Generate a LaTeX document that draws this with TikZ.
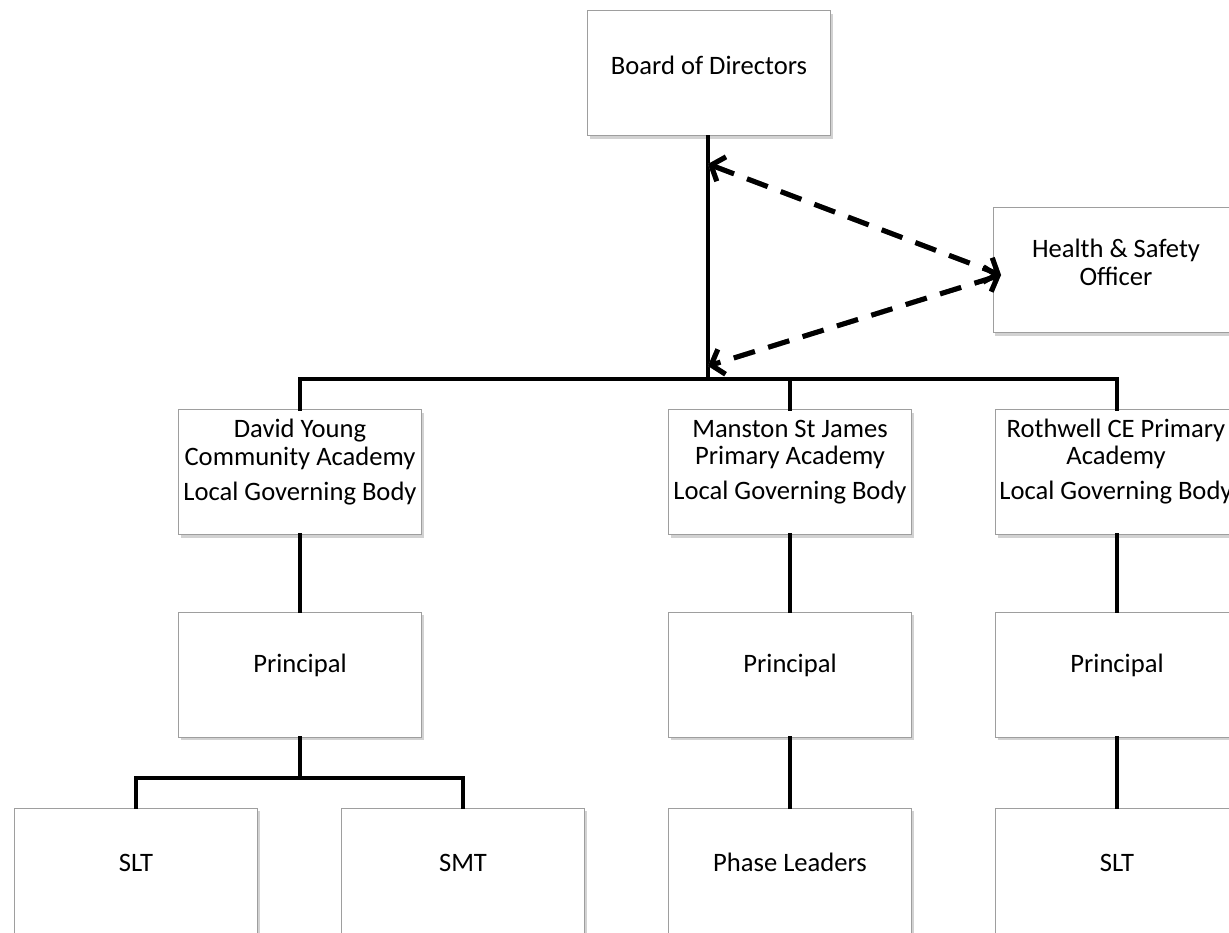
\documentclass[tikz,border=0pt]{standalone}
\usepackage{fontspec}
\setmainfont{Carlito}
\usetikzlibrary{arrows.meta,shadows}
\begin{document}
\begin{tikzpicture}[x=1pt,y=-1pt,
  box/.style={draw=black!38, line width=1pt, fill=white, minimum width=243pt, minimum height=125pt, inner sep=0pt,
    drop shadow={shadow xshift=2pt, shadow yshift=-3pt, opacity=0.35, fill=black!50}},
  txt/.style={anchor=base, inner sep=0pt, font=\fontsize{26.6}{30}\selectfont},
  conn/.style={line width=3.6pt, line cap=rect},
  dline/.style={line width=5pt, dash pattern=on 22pt off 14pt, {Straight Barb[length=11pt,width=26pt,line width=5pt]}-{Straight Barb[length=11pt,width=26pt,line width=5pt]}},
  dshadow/.style={dline, draw=black!45}]
\useasboundingbox (0,0) rectangle (1229,933);
\clip (0,0) rectangle (1229,933);
\fill[white] (0,0) rectangle (1229,933);

% boxes
\node[box] (b) at (709,73.5) {};
\node[box] (hs) at (1114.5,270.5) {};
\node[box] (dy) at (300,472) {};
\node[box] (ms) at (790,472) {};
\node[box] (rw) at (1117,472) {};
\node[box] (p1) at (300,674.5) {};
\node[box] (p2) at (790,674.5) {};
\node[box] (p3) at (1117,674.5) {};
\node[box] (s1) at (136,870.5) {};
\node[box] (s2) at (463,870.5) {};
\node[box] (s3) at (790,870.5) {};
\node[box] (s4) at (1117,870.5) {};

% texts
\node[txt] (tb) at (709,75) {Board of Directors};
\node[txt] (ths1) at (1116,258) {Health \& Safety};
\node[txt] (ths2) at (1116,286) {Officer};
\node[txt] (tdy1) at (300,437) {David Young};
\node[txt] (tdy2) at (300,465) {Community Academy};
\node[txt] (tdy3) at (300,500) {Local Governing Body};
\node[txt] (tms1) at (790,437) {Manston St James};
\node[txt] (tms2) at (790,464) {Primary Academy};
\node[txt] (tms3) at (790,499) {Local Governing Body};
\node[txt] (trw1) at (1116,437) {Rothwell CE Primary};
\node[txt] (trw2) at (1116,464) {Academy};
\node[txt] (trw3) at (1116,499) {Local Governing Body};
\node[txt] (tp1) at (300,672) {Principal};
\node[txt] (tp2) at (790,672) {Principal};
\node[txt] (tp3) at (1117,672) {Principal};
\node[txt] (ts1) at (136,871) {SLT};
\node[txt] (ts2) at (463,871) {SMT};
\node[txt] (ts3) at (790,871) {Phase Leaders};
\node[txt] (ts4) at (1117,871) {SLT};

% connectors
\coordinate (bar) at (708,379);
\coordinate (fork) at (300,778);
\coordinate (a1) at (708,164);
\coordinate (a2) at (708,366);
\coordinate (hsin) at (1001,275);
\draw[conn] (b.south -| bar) -- (bar);
\draw[conn] (dy.north) |- (bar) -| (rw.north);
\draw[conn] (ms.north) -- (ms.north |- bar);
\draw[conn] (dy.south) -- (p1.north);
\draw[conn] (ms.south) -- (p2.north);
\draw[conn] (rw.south) -- (p3.north);
\draw[conn] (p1.south) -- (fork);
\draw[conn] (s1.north) |- (fork) -| (s2.north);
\draw[conn] (p2.south) -- (s3.north);
\draw[conn] (p3.south) -- (s4.north);

% dashed arrows with shadow
\begin{scope}[shift={(2,3)}]
\draw[dshadow] (a1) -- (hsin);
\draw[dshadow] (hsin) -- (a2);
\end{scope}
\draw[dline] (a1) -- (hsin);
\draw[dline] (hsin) -- (a2);
\end{tikzpicture}
\end{document}
